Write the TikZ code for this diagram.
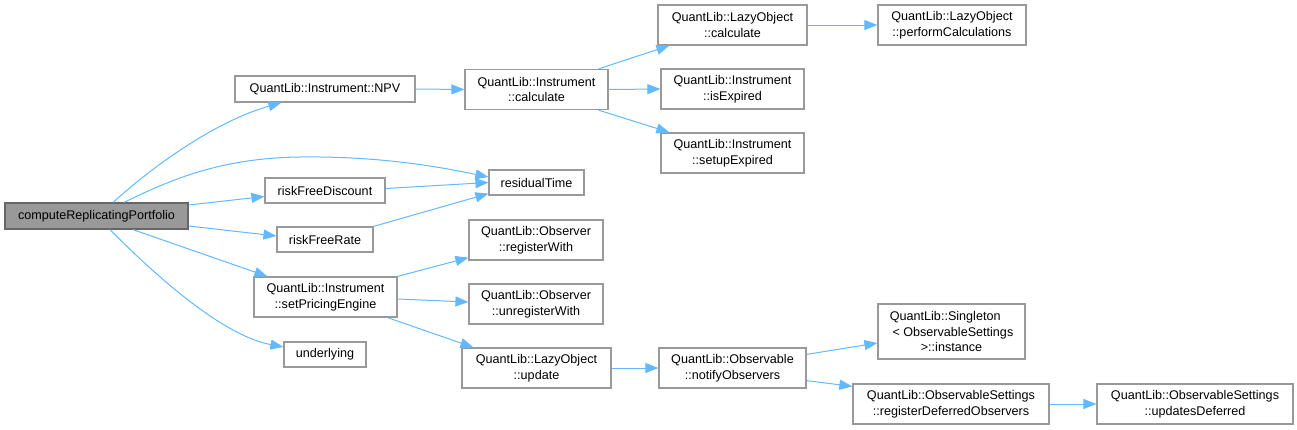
\documentclass[tikz,border=0pt]{standalone}
\usepackage{fontspec}
\setmainfont{Liberation Sans}
\usetikzlibrary{arrows.meta,calc}
\definecolor{edgeblue}{HTML}{63B8FF}
\definecolor{boxborder}{HTML}{999999}
\definecolor{rootfill}{HTML}{999999}
\definecolor{rootborder}{HTML}{666666}
\tikzset{
  box/.style={draw=boxborder, line width=1.2pt, fill=white, inner sep=0pt, align=center,
    font=\fontsize{12.6}{15.5}\selectfont},
  rootbox/.style={box, draw=rootborder, fill=rootfill},
  edge/.style={draw=edgeblue, line width=1pt, -{Triangle[length=13pt,width=10pt]}},
}
\begin{document}
\begin{tikzpicture}[x=1pt,y=-1pt]
\useasboundingbox (0,0) rectangle (1297,429);
% nodes
\node[rootbox, minimum width=183pt, minimum height=26pt] (root) at (96.5,216) {computeReplicatingPortfolio};
\node[box, minimum width=180pt, minimum height=26pt] (npv) at (325,89) {QuantLib::Instrument::NPV};
\node[box, minimum width=143pt, minimum height=40pt] (ic) at (536.5,89.5) {QuantLib::Instrument\\::calculate};
\node[box, minimum width=149pt, minimum height=40pt] (lc) at (732.5,25) {QuantLib::LazyObject\\::calculate};
\node[box, minimum width=148pt, minimum height=40pt] (pc) at (952,25) {QuantLib::LazyObject\\::performCalculations};
\node[box, minimum width=143pt, minimum height=40pt] (ie) at (732.5,89) {QuantLib::Instrument\\::isExpired};
\node[box, minimum width=143pt, minimum height=40pt] (se) at (732.5,153) {QuantLib::Instrument\\::setupExpired};
\node[box, minimum width=95pt, minimum height=25pt] (rt) at (536.5,182.5) {residualTime};
\node[box, minimum width=120pt, minimum height=25pt] (rfd) at (325,190.5) {riskFreeDiscount};
\node[box, minimum width=96pt, minimum height=25pt] (rfr) at (325,239.5) {riskFreeRate};
\node[box, minimum width=143pt, minimum height=40pt] (spe) at (325.5,297) {QuantLib::Instrument\\::setPricingEngine};
\node[box, minimum width=82pt, minimum height=25pt] (und) at (325,354.5) {underlying};
\node[box, minimum width=134pt, minimum height=40pt] (rw) at (536,240) {QuantLib::Observer\\::registerWith};
\node[box, minimum width=134pt, minimum height=40pt] (uw) at (536,304) {QuantLib::Observer\\::unregisterWith};
\node[box, minimum width=149pt, minimum height=40pt] (upd) at (536.5,368) {QuantLib::LazyObject\\::update};
\node[box, minimum width=147pt, minimum height=40pt] (no) at (732.5,368) {QuantLib::Observable\\::notifyObservers};
\node[box, minimum width=147pt, minimum height=55pt] (sg) at (951.5,331.5) {QuantLib::Singleton\hphantom{xx}\\\hphantom{l}<~ObservableSettings\\>::instance};
\node[box, minimum width=196pt, minimum height=40pt] (rdo) at (951,404) {QuantLib::ObservableSettings\\::registerDeferredObservers};
\node[box, minimum width=196pt, minimum height=40pt] (ud) at (1195,404) {QuantLib::ObservableSettings\\::updatesDeferred};
% edges from root
\draw[edge] ([xshift=16.5pt]root.north) .. controls (160,160) and (220,120) .. ([xshift=47pt]npv.south west);
\draw[edge] ([xshift=27.5pt]root.north) .. controls (170,180) and (220,158) .. (300,157) .. controls (380,156) and (440,167) .. ([yshift=5.5pt]rt.west);
\draw[edge] ([yshift=11pt]root.east) -- ([yshift=-6pt]rfd.west);
\draw[edge] ([yshift=-10pt]root.east) -- ([yshift=3.5pt]rfr.west);
\draw[edge] ([xshift=36.5pt]root.south) -- ([xshift=14pt]spe.north west);
\draw[edge] ([xshift=13.5pt]root.south) .. controls (150,270) and (220,335) .. ([yshift=7.5pt]und.west);
% other edges
\draw[edge] (npv.east) -- (ic.west);
\draw[edge] ([xshift=-10pt]ic.north east) -- ([xshift=12pt]lc.south west);
\draw[edge] (ic.east) -- (ie.west);
\draw[edge] ([xshift=-10pt]ic.south east) -- ([xshift=9pt]se.north west);
\draw[edge] (lc.east) -- (pc.west);
\draw[edge] ([yshift=2pt]rfd.east) -- (rt.west);
\draw[edge] (rfr.north east) -- ([yshift=2pt]rt.south west);
\draw[edge] (spe.north east) -- ([yshift=3pt]rw.south west);
\draw[edge] ([yshift=-2pt]spe.east) -- ([yshift=2pt]uw.west);
\draw[edge] ([xshift=-10pt]spe.south east) -- ([xshift=12pt]upd.north west);
\draw[edge] (upd.east) -- (no.west);
\draw[edge] ([yshift=-7pt]no.north east) -- ([yshift=-11.5pt]sg.west);
\draw[edge] ([yshift=8pt]no.south east) -- ([yshift=-3pt]rdo.north west);
\draw[edge] (rdo.east) -- (ud.west);
\end{tikzpicture}
\end{document}
